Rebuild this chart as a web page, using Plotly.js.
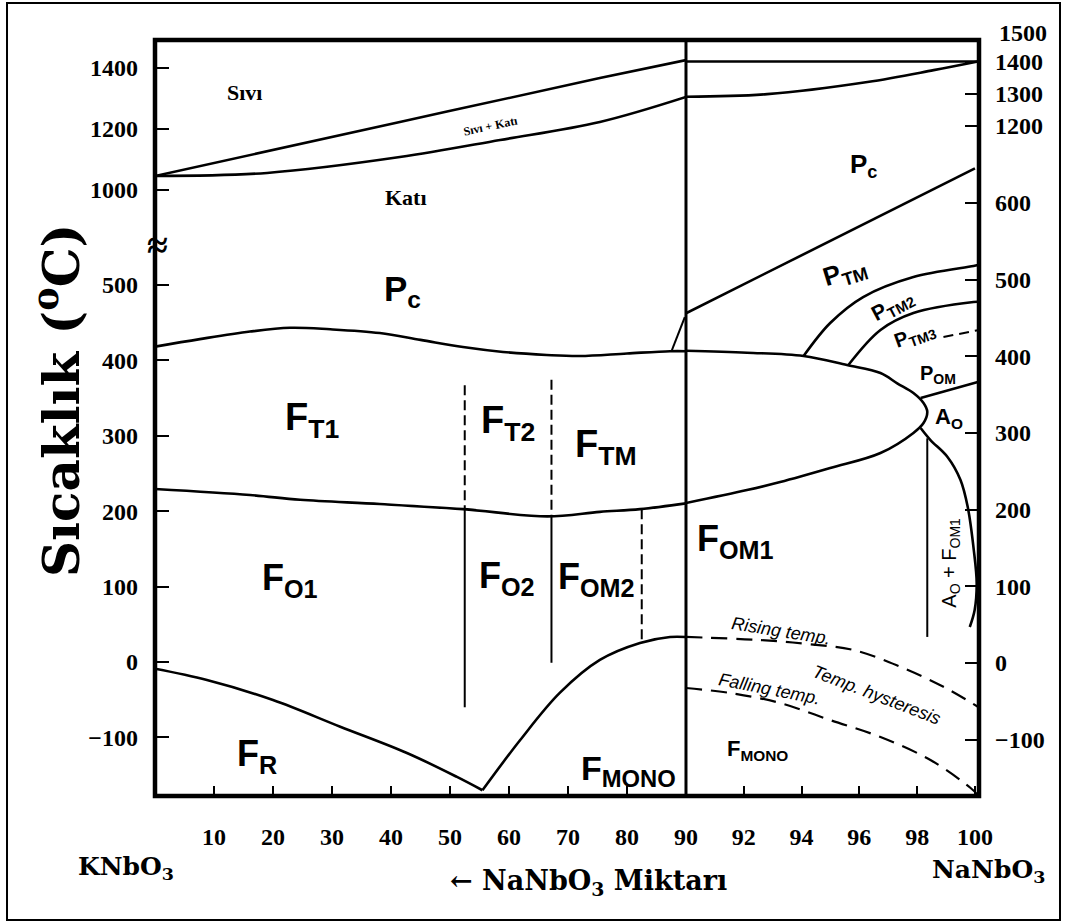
<!DOCTYPE html>
<html><head><meta charset="utf-8">
<script src="https://cdn.plot.ly/plotly-3.0.1.min.js"></script>
<style>html,body{margin:0;padding:0;background:#fff}</style>
</head><body><div id="chart" style="width:1066px;height:923px"></div>
<script>
// ---------- DATA (composition % NaNbO3, temperature °C) ----------
// left panel (0-90 % NaNbO3), high temperature part
const liquidusX = [0, 41.5, 75.4, 90];
const liquidusT = [1046, 1223, 1367, 1426];
const solidusX = [0, 19, 41.5, 58.5, 75.4, 90];
const solidusT = [1046, 1056, 1108, 1164, 1223, 1305];
// left panel, low temperature part
const curieX = [0, 7.6, 16.1, 22.9, 29.7, 38.1, 45, 52.2, 59, 66.4, 72, 80, 87.3, 90];
const curieT = [418, 428, 438, 443, 441, 436, 427, 417.5, 411, 407, 405.6, 409, 412, 412];
const curieStubX = [87.6, 89.8];
const curieStubT = [413, 457];
const ftfoX = [0, 16.1, 24.6, 38.1, 52.2, 66.5, 75.4, 82.2, 90];
const ftfoT = [229.3, 221.3, 215, 209.4, 202.6, 193, 199, 202.6, 210.3];
const frX = [0, 8.8, 20, 31.4, 42.7, 51.1, 55.5];
const frT = [-9, -23.9, -50.4, -85.8, -120.6, -152, -170];
const monoX = [55.5, 61.9, 68.6, 75.4, 82.2, 87.3, 90];
const monoT = [-170, -103.4, -41, 2.7, 25.2, 33.1, 33.1];
const vBoundX = [52.5, 67.2];
const vDashTopT = [367, 374];
const vJoinT = [202.6, 193.5];
const vSolidBotT = [-60, -1];
const om2X = 82.5;
const om2TopT = 202.6;
const om2BotT = 28;
// right panel (90-100 % NaNbO3), high temperature part
const liquidusRX = [90, 100.1];
const liquidusRT = [1400, 1400];
const solidusRX = [90, 92.81, 96.28, 98.57, 100.1];
const solidusRT = [1290, 1298, 1336, 1373, 1400];
// right panel, low temperature part
const pcPtmX = [90, 100];
const pcPtmT = [456, 645];
const ellipseX = [90, 92.11, 94.07, 95.57, 96.73, 97.31, 97.87, 98.22, 98.35, 98.22, 97.87, 96.73, 94.99, 93.26, 92.11, 90];
const ellipseT = [407.2, 404.6, 400.3, 388.5, 378.1, 364.7, 352, 339, 327.6, 312.9, 300, 273.8, 254.2, 235.9, 225.5, 208.6];
const ptm2X = [94.07, 94.99, 96.13, 97.87, 99.95, 100.1];
const ptm2T = [400.3, 443.3, 477.2, 503.3, 517.6, 519];
const ptm3X = [95.62, 96.73, 97.87, 99.95, 100.1];
const ptm3T = [388.5, 434.2, 456.3, 470.7, 471];
const pomDashX = [98.91, 100.1];
const pomDashT = [425, 434];
const pomAoX = [98.12, 100.1];
const pomAoT = [345.5, 366.4];
const aoX = [98.12, 98.46, 99.05, 99.5, 99.75, 99.96, 100.06, 99.99, 99.82];
const aoT = [306.4, 290.7, 268.6, 238.6, 203.4, 147.3, 104.3, 69.1, 46.9];
const aoVertX = 98.35;
const aoVertTopT = 293;
const aoVertBotT = 34;
const risingX = [90, 92.57, 94.2, 95.79, 97.42, 98.91, 100.1];
const risingT = [34, 30, 24.8, 17, -5, -31, -57];
const fallingX = [90, 91.53, 93.26, 94.99, 96.73, 98.46, 99.85, 100.1];
const fallingT = [-32.6, -39.1, -52.2, -74.4, -96.5, -126.5, -163, -172];
// ticks
const xTicksL = [10, 20, 30, 40, 50, 60, 70, 80];
const xTicksR = [90, 92, 94, 96, 98, 100];
const yTicksLLow = [-100, 0, 100, 200, 300, 400, 500];
const yTicksLHigh = [1000, 1200, 1400];
const yTicksRLow = [-100, 0, 100, 200, 300, 400, 500, 600];
const yTicksRHigh = [1200, 1300, 1400];

// ---------- TRACES ----------
function ln(x, y, xa, ya, w, dash, shape) {
  return {x: x, y: y, xaxis: xa, yaxis: ya, mode: 'lines', hoverinfo: 'skip',
    line: {color: '#000', width: w || 2.6, dash: dash || 'solid', shape: shape || 'spline'}};
}
const rep = (v) => [v, v];
const traces = [
  ln(liquidusX, liquidusT, 'x', 'y3'),
  ln(solidusX, solidusT, 'x', 'y3'),
  ln(curieX, curieT, 'x', 'y'),
  ln(curieStubX, curieStubT, 'x', 'y', 2),
  ln(ftfoX, ftfoT, 'x', 'y'),
  ln(frX, frT, 'x', 'y'),
  ln(monoX, monoT, 'x', 'y'),
  ln(rep(vBoundX[0]), [vDashTopT[0], vJoinT[0]], 'x', 'y', 2, '10px,5px', 'linear'),
  ln(rep(vBoundX[0]), [vJoinT[0], vSolidBotT[0]], 'x', 'y', 2, 'solid', 'linear'),
  ln(rep(vBoundX[1]), [vDashTopT[1], vJoinT[1]], 'x', 'y', 2, '10px,5px', 'linear'),
  ln(rep(vBoundX[1]), [vJoinT[1], vSolidBotT[1]], 'x', 'y', 2, 'solid', 'linear'),
  ln(rep(om2X), [om2TopT, om2BotT], 'x', 'y', 2, '10px,5px', 'linear'),
  ln(liquidusRX, liquidusRT, 'x2', 'y4'),
  ln(solidusRX, solidusRT, 'x2', 'y4'),
  ln(pcPtmX, pcPtmT, 'x2', 'y2'),
  ln(ellipseX, ellipseT, 'x2', 'y2'),
  ln(ptm2X, ptm2T, 'x2', 'y2'),
  ln(ptm3X, ptm3T, 'x2', 'y2'),
  ln(pomDashX, pomDashT, 'x2', 'y2', 2, '10px,6px', 'linear'),
  ln(pomAoX, pomAoT, 'x2', 'y2', 2.5, 'solid', 'linear'),
  ln(aoX, aoT, 'x2', 'y2'),
  ln(rep(aoVertX), [aoVertTopT, aoVertBotT], 'x2', 'y2', 2, 'solid', 'linear'),
  ln(risingX, risingT, 'x2', 'y2', 2.2, '16px,9px'),
  ln(fallingX, fallingT, 'x2', 'y2', 2.2, '16px,9px')
];

// ---------- LAYOUT ----------
const tickFont = {family: 'Liberation Serif, serif', size: 24, weight: 'bold', color: '#000'};
function axis(o) {
  return Object.assign({showgrid: false, zeroline: false, showline: false, ticks: 'inside',
    tickcolor: '#000', tickwidth: 2, tickfont: tickFont, fixedrange: true, tickmode: 'array'}, o);
}
const xSplit = 0.6444;
const sans = (s) => ({family: 'Liberation Sans, Arial, sans-serif', size: s, weight: 'bold', color: '#000'});
const sansN = (s) => ({family: 'Liberation Sans, Arial, sans-serif', size: s, color: '#000'});
const serif = (s) => ({family: 'Liberation Serif, serif', size: s, weight: 'bold', color: '#000'});
const dserif = (s) => ({family: 'DejaVu Serif, serif', size: s, weight: 'bold', color: '#000'});
function lab(text, x, y, xr, yr, font, angle) {
  return {text: text, x: x, y: y, xref: xr, yref: yr, showarrow: false, font: font,
    textangle: angle || 0, xanchor: 'center', yanchor: 'middle'};
}
const annotations = [
  lab('Sıvı', 15.25, 1321, 'x', 'y3', serif(22)),
  lab('Katı', 42.5, 977, 'x', 'y3', serif(22)),
  lab('Sıvı + Katı', 56.9, 1210, 'x', 'y3', serif(12), -12),
  lab('P<sub>c</sub>', 41.9, 491.7, 'x', 'y', sans(35)),
  lab('F<sub>T1</sub>', 26.6, 320.7, 'x', 'y', sans(38)),
  lab('F<sub>T2</sub>', 59.8, 316.8, 'x', 'y', sans(38)),
  lab('F<sub>TM</sub>', 76.4, 285, 'x', 'y', sans(38)),
  lab('F<sub>O1</sub>', 22.9, 108.7, 'x', 'y', sans(36)),
  lab('F<sub>O2</sub>', 59.7, 111.3, 'x', 'y', sans(36)),
  lab('F<sub>OM2</sub>', 74.9, 110, 'x', 'y', sans(36)),
  lab('F<sub>R</sub>', 17.3, -124.6, 'x', 'y', sans(36)),
  lab('F<sub>MONO</sub>', 80.3, -144, 'x', 'y', sans(34)),
  lab('P<sub>c</sub>', 96.14, 649.3, 'x2', 'y2', sans(26)),
  lab('P<sub>TM</sub>', 95.52, 509.8, 'x2', 'y2', sans(26), -17),
  lab('P<sub>TM2</sub>', 97.15, 465.4, 'x2', 'y2', sans(21), -28),
  lab('P<sub>TM3</sub>', 97.94, 427.6, 'x2', 'y2', sans(20), -20),
  lab('P<sub>OM</sub>', 98.71, 376.8, 'x2', 'y2', sans(20)),
  lab('A<sub>O</sub>', 99.09, 319.4, 'x2', 'y2', sans(22)),
  lab('A<sub>O</sub> + F<sub>OM1</sub>', 99.16, 130.4, 'x2', 'y2', sansN(20), -90),
  lab('F<sub>OM1</sub>', 91.73, 159, 'x2', 'y2', sans(36)),
  lab('F<sub>MONO</sub>', 92.46, -113.4, 'x2', 'y2', sans(22)),
  lab('<i>Rising temp.</i>', 93.3, 42, 'x2', 'y2', sansN(18), 9),
  lab('<i>Temp. hysteresis</i>', 96.6, -41.7, 'x2', 'y2', sansN(18), 21),
  lab('<i>Falling temp.</i>', 92.9, -34, 'x2', 'y2', sansN(18), 11),
  lab('Sıcaklık (<sup>o</sup>C)', -0.1177, 0.5225, 'paper', 'paper', dserif(50), -90),
  lab('KNbO<sub>3</sub>', -0.0352, -0.0952, 'paper', 'paper', dserif(25)),
  lab('NaNbO<sub>3</sub>', 1.0121, -0.0992, 'paper', 'paper', dserif(25)),
  lab('← NaNbO<sub>3</sub> Miktarı', 0.5255, -0.1138, 'paper', 'paper', dserif(27)),
  {text: '1500', x: 1.0218, y: 1.0093, xref: 'paper', yref: 'paper', showarrow: false,
    font: tickFont, xanchor: 'left', yanchor: 'middle'},
  lab('≈', 0.003, 0.7288, 'paper', 'paper', serif(38))
];
const shapes = [
  {type: 'rect', xref: 'paper', yref: 'paper', x0: -0.1796, x1: 1.0983, y0: -0.164, y1: 1.049,
    line: {color: '#000', width: 2}},
  {type: 'rect', xref: 'paper', yref: 'paper', x0: 0, x1: 1, y0: 0, y1: 1,
    line: {color: '#000', width: 4.5}},
  {type: 'line', xref: 'paper', yref: 'paper', x0: xSplit, x1: xSplit, y0: 0, y1: 1,
    line: {color: '#000', width: 3}}
];
const layout = {
  width: 1066, height: 923,
  margin: {l: 155, r: 87, t: 40, b: 127, pad: 0},
  paper_bgcolor: '#fff', plot_bgcolor: '#fff',
  showlegend: false,
  xaxis: axis({domain: [0, xSplit], range: [0, 90], anchor: 'y', tickvals: xTicksL,
    ticklen: 10, ticklabelstandoff: 24}),
  xaxis2: axis({domain: [xSplit, 1], range: [90, 100.14], anchor: 'y2', tickvals: xTicksR,
    ticklen: 10, ticklabelstandoff: 24}),
  yaxis: axis({domain: [0, 0.7288], range: [-177.6, 552.7], anchor: 'x', tickvals: yTicksLLow,
    ticklen: 14, ticklabelstandoff: 16}),
  yaxis3: axis({domain: [0.7288, 1], range: [819.7, 1491.8], anchor: 'x', tickvals: yTicksLHigh,
    ticklen: 14, ticklabelstandoff: 16}),
  yaxis2: axis({domain: [0, 0.8677], range: [-173.4, 681.9], anchor: 'x2', side: 'right',
    tickvals: yTicksRLow, ticklen: 14, ticklabelstandoff: 15}),
  yaxis4: axis({domain: [0.8677, 1], range: [1154.7, 1467.2], anchor: 'x2', side: 'right',
    tickvals: yTicksRHigh, ticklen: 14, ticklabelstandoff: 15}),
  annotations: annotations,
  shapes: shapes
};
Plotly.newPlot('chart', traces, layout, {staticPlot: true, displayModeBar: false});
</script></body></html>
